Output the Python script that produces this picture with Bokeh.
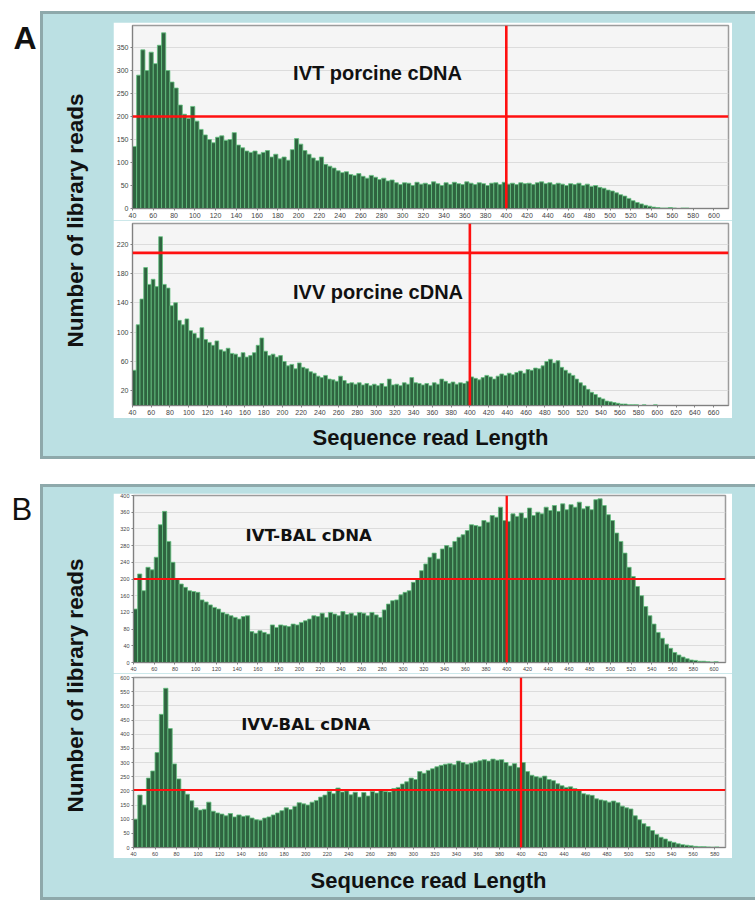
from math import pi
from bokeh.plotting import figure
from bokeh.models import Range1d, Span, Label
from bokeh.layouts import row, column
from bokeh.embed import file_html
from bokeh.resources import INLINE
from bokeh.core.properties import value

# ---------------- data (read-length histograms, 4-bp bins starting at 40) ----------------
BIN = 4
X_START = 40

ivt_porcine = [135, 290, 345, 300, 340, 315, 355, 382, 300, 275,
               262, 225, 205, 196, 222, 190, 172, 160, 150, 143,
               155, 158, 148, 150, 165, 138, 132, 125, 122, 125,
               118, 122, 126, 112, 118, 108, 112, 105, 128, 152,
               140, 126, 118, 110, 104, 112, 96, 92, 88, 82,
               78, 80, 74, 72, 76, 70, 66, 72, 68, 63,
               66, 60, 62, 56, 52, 56, 55, 50, 57, 53,
               55, 52, 58, 54, 50, 56, 52, 57, 54, 52,
               58, 55, 52, 56, 54, 50, 55, 56, 52, 57,
               53, 55, 52, 56, 54, 55, 52, 56, 58, 54,
               56, 52, 55, 53, 50, 54, 52, 55, 50, 53,
               48, 50, 46, 44, 40, 38, 34, 30, 27, 22,
               17, 13, 10, 7, 5, 3, 2, 1, 1, 2,
               1, 0, 1, 1, 0]

ivv_porcine = [48, 110, 145, 188, 165, 172, 162, 230, 165, 160,
               136, 140, 116, 110, 118, 102, 98, 92, 106, 90,
               86, 82, 88, 76, 74, 78, 71, 70, 66, 72,
               66, 68, 72, 82, 92, 74, 68, 70, 66, 68,
               60, 54, 56, 50, 58, 52, 50, 46, 44, 40,
               38, 41, 36, 35, 33, 40, 34, 30, 31, 29,
               31, 28, 30, 27, 29, 27, 30, 26, 36, 28,
               29, 27, 31, 29, 38, 31, 30, 28, 30, 27,
               31, 29, 36, 33, 30, 32, 29, 31, 30, 33,
               39, 37, 35, 38, 41, 39, 36, 40, 43, 41,
               44, 42, 45, 47, 44, 49, 48, 51, 50, 54,
               60, 63, 58, 61, 52, 48, 44, 41, 36, 31,
               27, 22, 18, 15, 11, 9, 6, 5, 4, 3,
               2, 2, 1, 1, 1, 0, 1, 0, 0, 1]

ivt_bal = [128, 212, 172, 228, 222, 252, 330, 362, 290, 240,
           200, 188, 180, 172, 170, 168, 150, 145, 138, 132,
           128, 120, 116, 112, 108, 104, 110, 112, 74, 70,
           76, 72, 68, 90, 84, 90, 88, 86, 92, 90,
           96, 100, 104, 112, 110, 118, 108, 120, 116, 112,
           122, 115, 118, 112, 120, 118, 112, 120, 114, 108,
           126, 140, 148, 150, 162, 168, 172, 192, 200, 220,
           236, 252, 262, 248, 272, 280, 276, 290, 300, 306,
           316, 330, 328, 326, 340, 336, 352, 348, 372, 340,
           338, 356, 350, 358, 346, 370, 352, 360, 356, 372,
           364, 376, 362, 380, 366, 378, 372, 384, 368, 374,
           366, 390, 392, 376, 354, 340, 310, 290, 262, 228,
           206, 182, 160, 134, 112, 92, 72, 58, 44, 34,
           24, 18, 13, 9, 6, 5, 3, 3, 2, 1,
           2]

ivv_bal = [100, 185, 150, 245, 270, 335, 470, 562, 420, 295,
           242, 205, 188, 165, 140, 132, 135, 160, 128, 122,
           118, 112, 120, 108, 115, 110, 112, 104, 98, 96,
           104, 108, 115, 122, 130, 140, 134, 145, 158, 154,
           150, 160, 166, 178, 185, 198, 190, 210, 196, 200,
           186, 195, 178, 194, 182, 198, 192, 204, 198, 196,
           208, 212, 224, 232, 245, 240, 268, 262, 272, 278,
           285, 290, 294, 296, 292, 305, 300, 294, 298, 302,
           306, 310, 305, 312, 308, 310, 300, 288, 296, 282,
           300, 268, 255, 250, 246, 252, 240, 236, 225, 218,
           212, 214, 208, 204, 190, 186, 184, 172, 168, 165,
           160, 164, 158, 146, 140, 136, 112, 98, 84, 74,
           60, 46, 36, 30, 22, 18, 13, 10, 8, 6,
           4, 3, 3, 2, 1, 2]

# tick values
xticks_1 = list(range(40, 601, 20))
xticks_2 = list(range(40, 661, 20))
xticks_3 = list(range(40, 601, 20))
xticks_4 = list(range(40, 581, 20))
yticks_1 = list(range(0, 351, 50))
yticks_2 = list(range(20, 221, 40))
yticks_3 = list(range(0, 401, 40))
yticks_4 = list(range(0, 601, 50))

# reference lines
hline_1, hline_2, hline_3, hline_4 = 200, 208, 200, 203
vline = 400

# texts
titles = ["IVT porcine cDNA", "IVV porcine cDNA", "IVT-BAL cDNA", "IVV-BAL cDNA"]
ytitle = "Number of library reads"
xtitle = "Sequence read Length"

# ---------------- styling ----------------
BLUE = "#bbe0e3"
EDGE = "#8ea9ab"
BAR_FILL = "#2f6440"
BAR_LINE = "#63c27f"
RED = "#ff1010"
W = 755


def panel_layers(top, bot):
    h = bot - top
    wdt = W - 40
    solid = lambda c: "linear-gradient(%s,%s)" % (c, c)
    return [
        "%s 40px %dpx / 3px %dpx no-repeat" % (solid(EDGE), top, h),
        "%s 40px %dpx / %dpx 3px no-repeat" % (solid(EDGE), top, wdt),
        "%s 40px %dpx / %dpx 3px no-repeat" % (solid(EDGE), bot - 3, wdt),
        "%s 40px %dpx / %dpx %dpx no-repeat" % (solid(BLUE), top, wdt, h),
    ]


BACKGROUND = ", ".join(panel_layers(11, 459) + panel_layers(484, 900) + ["#ffffff"])


def deco(x0, x1, y0, y1):
    """Transparent text canvas; data coordinates are page pixels (y negated)."""
    p = figure(width=x1 - x0, height=y1 - y0, x_range=Range1d(x0, x1),
               y_range=Range1d(-y1, -y0), output_backend="svg",
               toolbar_location=None, x_axis_type=None, y_axis_type=None,
               min_border=0, min_border_left=0, min_border_right=0,
               min_border_top=0, min_border_bottom=0,
               outline_line_color=None, title=None,
               background_fill_alpha=0, border_fill_alpha=0)
    return p


def put_text(p, x, y, txt, size, bold=True, angle=0.0, align="center", baseline="middle"):
    p.text(x=[x], y=[-y], text=[txt], angle=angle, text_align=align,
           text_baseline=baseline, text_font=value("Liberation Sans"),
           text_font_style="bold" if bold else "normal",
           text_font_size=size, text_color="#111111")


def hist_fig(vals, x_end, y_end, h, mb, xticks, yticks, lab_px, hline,
             hw, vw, title, tx, ty, tfont, tsize):
    p = figure(width=619, height=h, x_range=Range1d(X_START, x_end),
               y_range=Range1d(0, y_end), output_backend="svg",
               toolbar_location=None, title=None,
               min_border_left=mb[0], min_border_right=mb[1],
               min_border_top=mb[2], min_border_bottom=mb[3],
               background_fill_color="#f5f5f5", border_fill_color="white",
               outline_line_color="#9c9c9c", outline_line_width=1.5)
    centers = [X_START + BIN * i + BIN / 2 for i in range(len(vals))]
    p.vbar(x=centers, width=BIN, top=vals, bottom=0,
           fill_color=BAR_FILL, line_color=BAR_LINE, line_width=0.8)
    p.xgrid.visible = False
    p.ygrid.ticker = yticks
    p.ygrid.grid_line_color = "#dcdcdc"
    p.xaxis.ticker = xticks
    p.yaxis.ticker = yticks
    for ax in p.axis:
        ax.major_label_text_font = "Liberation Sans"
        ax.major_label_text_font_size = lab_px
        ax.major_label_text_color = "#444444"
        ax.axis_line_color = "#808080"
        ax.major_tick_line_color = "#808080"
        ax.minor_tick_line_color = None
        ax.major_tick_in = 0
        ax.major_tick_out = 2
        ax.major_label_standoff = 2
    p.add_layout(Span(location=hline, dimension="width", line_color=RED, line_width=hw))
    p.add_layout(Span(location=vline, dimension="height", line_color=RED, line_width=vw))
    p.add_layout(Label(x=tx, y=ty, text=title, text_align="center",
                       text_baseline="middle", text_font=tfont,
                       text_font_style="bold", text_font_size=tsize,
                       text_color="#111111"))
    return p


fig1 = hist_fig(ivt_porcine, 614, 398, 198, (18, 4, 3, 12), xticks_1, yticks_1, "7px",
                hline_1, 2.6, 2.6, titles[0], 276, 295, "Liberation Sans", "20px")
fig2 = hist_fig(ivv_porcine, 676, 248, 198, (18, 4, 3, 13), xticks_2, yticks_2, "7px",
                hline_2, 2.6, 2.6, titles[1], 302, 154, "Liberation Sans", "20px")
fig3 = hist_fig(ivt_bal, 611, 400, 180, (20, 7, 2, 8), xticks_3, yticks_3, "5.5px",
                hline_3, 1.8, 2.3, titles[2], 209, 305, "DejaVu Sans", "16.5px")
fig4 = hist_fig(ivv_bal, 590, 600, 185, (20, 7, 4, 9), xticks_4, yticks_4, "5.5px",
                hline_4, 1.8, 2.3, titles[3], 200, 435, "DejaVu Sans", "16.5px")

# ---------------- text canvases (page pixel coordinates) ----------------
L = deco(0, 113, 0, 902)
put_text(L, 13, 37, "A", "32px", bold=True, align="left", baseline="alphabetic")
put_text(L, 75, 220, ytitle, "22.5px", angle=pi / 2)
put_text(L, 11, 509, "B", "31px", bold=False, align="left", baseline="alphabetic")
put_text(L, 75, 685, ytitle, "22.5px", angle=pi / 2)

S0 = deco(113, W, 0, 22)
RA = deco(732, W, 22, 418)
S1 = deco(113, W, 418, 493)
put_text(S1, 430, 437, xtitle, "22px")
RB = deco(732, W, 493, 858)
S2 = deco(113, W, 858, 902)
put_text(S2, 428, 880, xtitle, "22px")

right = column(S0,
               row(column(fig1, fig2), RA),
               S1,
               row(column(fig3, fig4), RB),
               S2)
layout = row(L, right, styles={"background": BACKGROUND})

open("out.html", "w").write(file_html(layout, INLINE))
